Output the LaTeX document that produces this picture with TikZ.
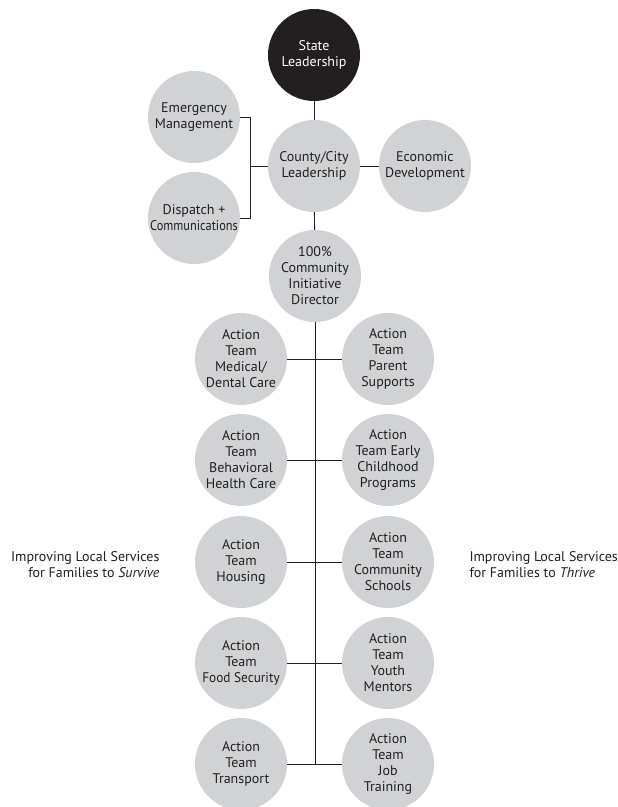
\documentclass[tikz,border=0pt]{standalone}
\usepackage{fontspec}
\setmainfont{PT Sans}
\usepackage{tikz}
\usetikzlibrary{positioning, calc}
\definecolor{bubblegray}{HTML}{D1D2D4}
\definecolor{inkblack}{HTML}{231F20}

\begin{document}
\begin{tikzpicture}[x=1pt, y=-1pt,
    every node/.style={font=\fontsize{14}{16}\selectfont, text=inkblack},
    bubble/.style={circle, fill=bubblegray, minimum size=92pt, inner sep=0pt, align=center},
    topbubble/.style={bubble, fill=inkblack, text=white},
    link/.style={draw=inkblack, line width=0.9pt}]
    \useasboundingbox (0,0) rectangle (618,807);

    % leadership
    \node[topbubble] (state) at (314,55) {State\\Leadership};
    \node[bubble] (county) at (314,166) {County/City\\Leadership};
    \node[bubble] (emerg) at (194,117) {Emergency\\Management};
    \node[bubble] (dispatch) at (194,218) {Dispatch +\\\scalebox{0.88}[1]{Communications}};
    \node[bubble] (econ) at (425,166) {Economic\\Development};
    \node[bubble] (director) at (315,276) {100\%\\Community\\Initiative\\Director};

    % action teams, survive side
    \node[bubble] (medical) at (241,359) {Action\\Team\\Medical/\\Dental Care};
    \node[bubble] (behavioral) at (241,460) {Action\\Team\\Behavioral\\Health Care};
    \node[bubble] (housing) at (241,562) {Action\\Team\\Housing};
    \node[bubble] (food) at (241,663) {Action\\Team\\\scalebox{0.95}[1]{Food Security}};
    \node[bubble] (transport) at (241,764) {Action\\Team\\Transport};

    % action teams, thrive side
    \node[bubble] (parent) at (388,359) {Action\\Team\\Parent\\Supports};
    \node[bubble] (early) at (388,460) {Action\\Team Early\\Childhood\\Programs};
    \node[bubble] (schools) at (388,562) {Action\\Team\\Community\\Schools};
    \node[bubble] (youth) at (388,663) {Action\\Team\\Youth\\Mentors};
    \node[bubble] (job) at (388,764) {Action\\Team\\Job\\Training};

    \node[anchor=east, align=right] (survive) at (163,565) {Improving Local Services\\for Families to \textit{Survive}};
    \node[anchor=west, align=left] (thrive) at (466,565) {Improving Local Services\\for Families to \textit{Thrive}};

    % connectors
    \coordinate (brk) at (250,117);
    \coordinate (trunkend) at (315,764);
    \draw[link] (state) -- (county);
    \draw[link] (county) -- (director);
    \draw[link] (county) -- (econ);
    \draw[link] (emerg.east) -- (brk) |- (dispatch.east);
    \draw[link] (county.west) -- (county.west -| brk);
    \draw[link] (director.south) -- (trunkend);
    \draw[link] (medical) -- (parent);
    \draw[link] (behavioral) -- (early);
    \draw[link] (housing) -- (schools);
    \draw[link] (food) -- (youth);
    \draw[link] (transport) -- (job);
\end{tikzpicture}
\end{document}
